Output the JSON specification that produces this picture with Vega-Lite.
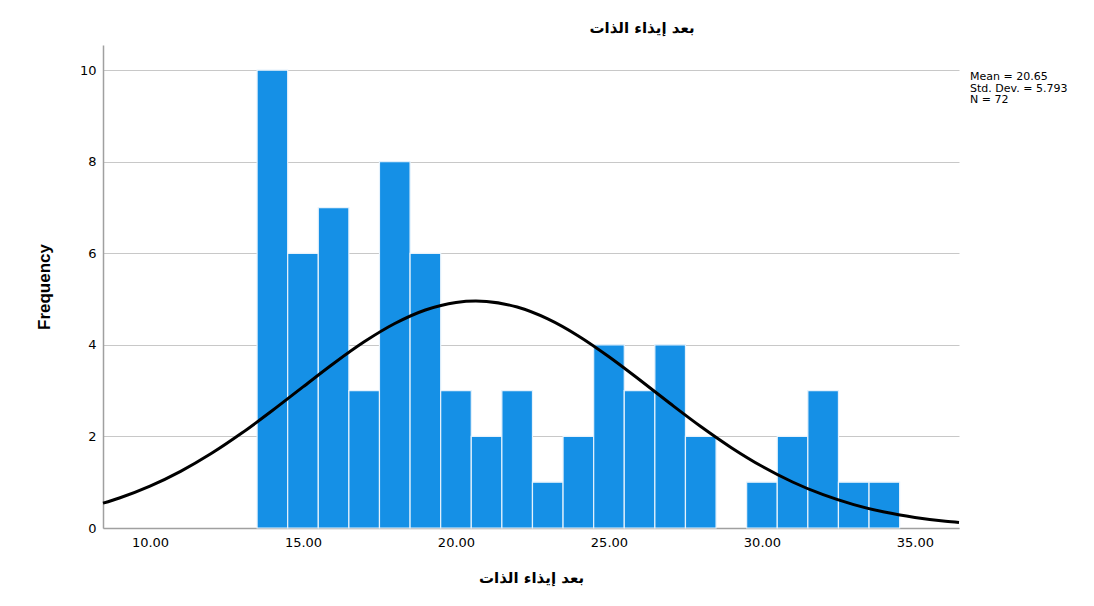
{
  "$schema": "https://vega.github.io/schema/vega-lite/v6.json",
  "width": 856,
  "height": 483,
  "autosize": {"type": "none"},
  "padding": {"left": 103, "top": 45, "right": 135, "bottom": 78},
  "background": "white",
  "title": {"text": "بعد إيذاء الذات", "font": "DejaVu Sans", "fontSize": 15, "fontWeight": "bold", "color": "black", "dx": 111, "offset": 9},
  "config": {"view": {"stroke": null}},
  "datasets": {
    "bars": [
      {"start": 13.5, "end": 14.5, "frequency": 10},
      {"start": 14.5, "end": 15.5, "frequency": 6},
      {"start": 15.5, "end": 16.5, "frequency": 7},
      {"start": 16.5, "end": 17.5, "frequency": 3},
      {"start": 17.5, "end": 18.5, "frequency": 8},
      {"start": 18.5, "end": 19.5, "frequency": 6},
      {"start": 19.5, "end": 20.5, "frequency": 3},
      {"start": 20.5, "end": 21.5, "frequency": 2},
      {"start": 21.5, "end": 22.5, "frequency": 3},
      {"start": 22.5, "end": 23.5, "frequency": 1},
      {"start": 23.5, "end": 24.5, "frequency": 2},
      {"start": 24.5, "end": 25.5, "frequency": 4},
      {"start": 25.5, "end": 26.5, "frequency": 3},
      {"start": 26.5, "end": 27.5, "frequency": 4},
      {"start": 27.5, "end": 28.5, "frequency": 2},
      {"start": 29.5, "end": 30.5, "frequency": 1},
      {"start": 30.5, "end": 31.5, "frequency": 2},
      {"start": 31.5, "end": 32.5, "frequency": 3},
      {"start": 32.5, "end": 33.5, "frequency": 1},
      {"start": 33.5, "end": 34.5, "frequency": 1}
    ],
    "curve": [
      {"x": 8.464, "density": 0.542},
      {"x": 9, "density": 0.656},
      {"x": 10, "density": 0.915},
      {"x": 11, "density": 1.238},
      {"x": 12, "density": 1.626},
      {"x": 13, "density": 2.074},
      {"x": 14, "density": 2.566},
      {"x": 15, "density": 3.082},
      {"x": 16, "density": 3.593},
      {"x": 17, "density": 4.066},
      {"x": 18, "density": 4.466},
      {"x": 19, "density": 4.762},
      {"x": 20, "density": 4.927},
      {"x": 20.65, "density": 4.958},
      {"x": 21, "density": 4.949},
      {"x": 22, "density": 4.826},
      {"x": 23, "density": 4.567},
      {"x": 24, "density": 4.195},
      {"x": 25, "density": 3.740},
      {"x": 26, "density": 3.237},
      {"x": 27, "density": 2.719},
      {"x": 28, "density": 2.217},
      {"x": 29, "density": 1.755},
      {"x": 30, "density": 1.348},
      {"x": 31, "density": 1.005},
      {"x": 32, "density": 0.727},
      {"x": 33, "density": 0.511},
      {"x": 34, "density": 0.348},
      {"x": 35, "density": 0.231},
      {"x": 36, "density": 0.148},
      {"x": 36.44, "density": 0.121}
    ]
  },
  "layer": [
    {
      "data": {"name": "bars"},
      "mark": {"type": "bar", "color": "#1590e6", "stroke": "#e6f2fc", "strokeWidth": 1.2},
      "encoding": {
        "x": {
          "field": "start", "type": "quantitative",
          "scale": {"domain": [8.464, 36.44], "nice": false, "zero": false},
          "axis": {
            "values": [10, 15, 20, 25, 30, 35], "format": ".2f", "grid": false, "ticks": false,
            "domainColor": "#a0a0a0", "domainWidth": 1.5,
            "labelFont": "DejaVu Sans", "labelFontSize": 13, "labelColor": "black", "labelPadding": 8,
            "title": "بعد إيذاء الذات", "titleFont": "DejaVu Sans", "titleFontSize": 15, "titleFontWeight": "bold", "titleColor": "black", "titlePadding": 21
          }
        },
        "x2": {"field": "end"},
        "y": {
          "field": "frequency", "type": "quantitative",
          "scale": {"domain": [0, 10.55], "nice": false},
          "axis": {
            "values": [0, 2, 4, 6, 8, 10], "grid": true, "gridColor": "#c8c8c8", "gridWidth": 1, "ticks": false,
            "domainColor": "#a0a0a0", "domainWidth": 1.5,
            "labelFont": "DejaVu Sans", "labelFontSize": 13, "labelColor": "black", "labelPadding": 7,
            "title": "Frequency", "titleFont": "Liberation Sans", "titleFontSize": 17, "titleFontWeight": "bold", "titleColor": "black", "titlePadding": 26
          }
        },
        "y2": {"datum": 0}
      }
    },
    {
      "data": {"name": "curve"},
      "mark": {"type": "line", "color": "black", "strokeWidth": 3, "interpolate": "monotone"},
      "encoding": {
        "x": {"field": "x", "type": "quantitative"},
        "y": {"field": "density", "type": "quantitative"}
      }
    },
    {
      "data": {"values": [{}]},
      "mark": {"type": "text", "align": "left", "baseline": "top", "font": "DejaVu Sans", "fontSize": 11, "lineHeight": 11.5, "color": "black", "clip": false},
      "encoding": {
        "x": {"datum": 36.8},
        "y": {"datum": 9.98},
        "text": {"value": ["Mean = 20.65", "Std. Dev. = 5.793", "N = 72"]}
      }
    }
  ]
}
